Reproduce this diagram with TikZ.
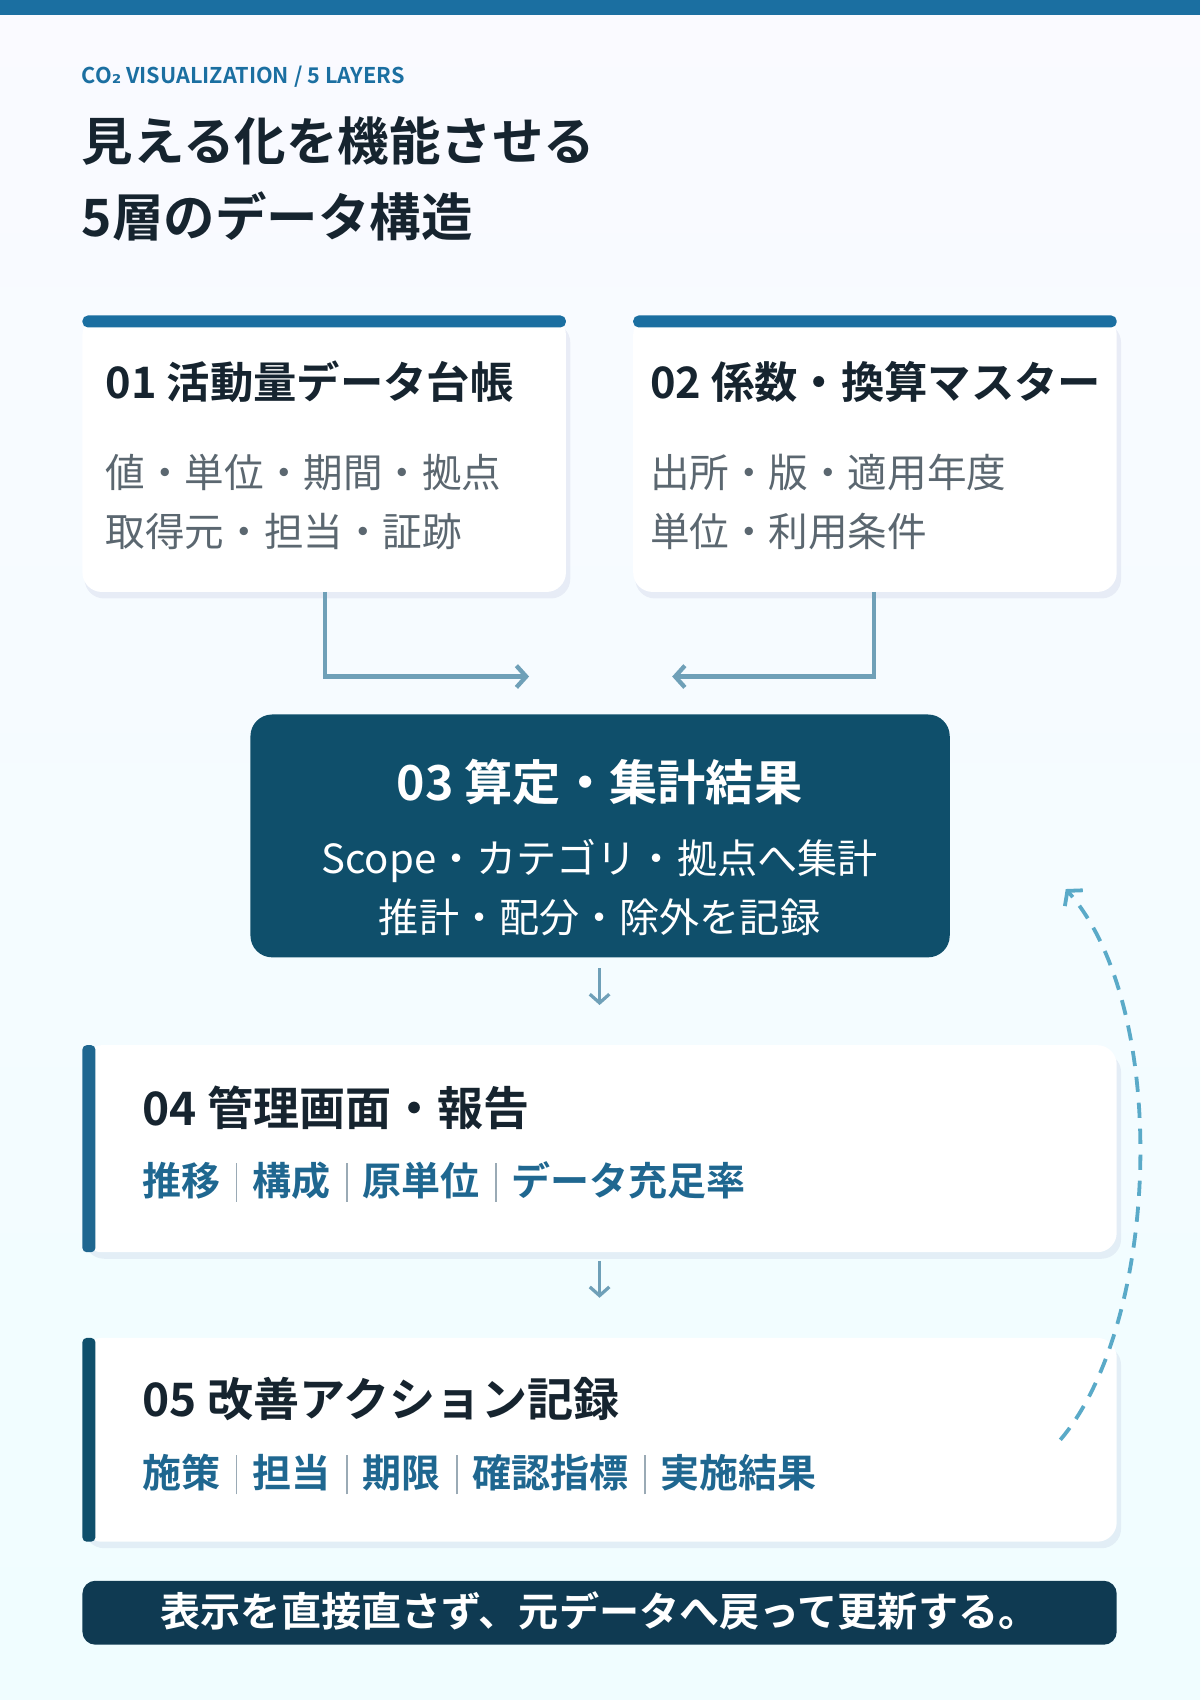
\documentclass[tikz,border=0pt]{standalone}
\usepackage{fontspec}
\setmainfont{Noto Sans CJK JP}[BoldFont={* Bold}]
\newfontfamily\dvs{DejaVu Sans}
\usetikzlibrary{arrows.meta}
\definecolor{topbar}{HTML}{1B6FA1}
\definecolor{ink}{HTML}{16242F}
\definecolor{gray1}{HTML}{5B6770}
\definecolor{blue4}{HTML}{1F6790}
\definecolor{dark3}{HTML}{0F4F6B}
\definecolor{ban}{HTML}{0F3A52}
\definecolor{arr}{HTML}{6FA0B8}
\definecolor{dashc}{HTML}{5AAAC8}
\definecolor{sepc}{HTML}{9AAAB5}
\newcommand{\fs}[1]{\fontsize{#1}{#1}\selectfont}
\newcommand{\sepbar}{\hspace{14pt}\textcolor{sepc}{\rule[-6pt]{1.5pt}{36pt}}\hspace{14pt}}
\tikzset{
 card/.style={fill=white,rounded corners=18pt},
 shadow/.style={fill=black!60!blue,opacity=0.06,rounded corners=18pt},
 ttl/.style={anchor=west,text=ink,font=\bfseries\fs{40}},
 body/.style={anchor=west,text=gray1,font=\fs{36.5}},
 items/.style={anchor=west,text=blue4,font=\bfseries\fs{36}},
 flow/.style={arr,line width=4pt,-{Straight Barb[length=9pt,width=20pt,line width=4pt]}},
 small/.style={arr,line width=3pt,-{Straight Barb[length=8pt,width=18pt,line width=3pt]}},
}
\begin{document}
\begin{tikzpicture}[x=1pt,y=-1pt]
\shade[top color=white!60!blue!5,bottom color=blue!10!cyan!6!white] (0,0) rectangle (1107,1568);
\useasboundingbox (0,0) rectangle (1107,1568);
\fill[topbar] (0,0) rectangle (1107,14);
\node[anchor=west,text=topbar,font=\bfseries\fs{20}] (kick) at (72,71) {CO{\dvs ₂} VISUALIZATION / 5 LAYERS};
\node[anchor=west,text=ink,font=\bfseries\fs{47.5}] (t1) at (72,130) {見える化を機能させる};
\node[anchor=west,text=ink,font=\bfseries\fs{47.5}] (t2) at (72,200) {5層のデータ構造};
% box 1
\fill[shadow] (78,298) rectangle (526,552);
\fill[card] (76,291) rectangle (522,546);
\fill[topbar,rounded corners=5pt] (76,291) rectangle (522,302);
\node[ttl] (b1t) at (94,352) {01 活動量データ台帳};
\node[body] (b1a) at (94,436) {値・単位・期間・拠点};
\node[body] (b1b) at (94,490) {取得元・担当・証跡};
% box 2
\fill[shadow] (586,298) rectangle (1034,552);
\fill[card] (584,291) rectangle (1030,546);
\fill[topbar,rounded corners=5pt] (584,291) rectangle (1030,302);
\node[ttl] (b2t) at (596,352) {02 係数・換算マスター};
\node[body] (b2a) at (596,436) {出所・版・適用年度};
\node[body] (b2b) at (596,490) {単位・利用条件};
% arrows into 3
\coordinate (a1s) at (300,546); \coordinate (a1e) at (488,624);
\coordinate (a2s) at (806,546); \coordinate (a2e) at (620,624);
\draw[flow] (a1s) |- (a1e);
\draw[flow] (a2s) |- (a2e);
% box 3
\fill[dark3,rounded corners=20pt] (231,659) rectangle (876,883);
\node[text=white,font=\bfseries\fs{44.5}] (b3t) at (553,721) {03 算定・集計結果};
\node[text=white,font=\fs{37}] (b3a) at (553,794) {Scope・カテゴリ・拠点へ集計};
\node[text=white,font=\fs{37}] (b3b) at (553,846) {推計・配分・除外を記録};
\coordinate (s1) at (553,893); \coordinate (e1) at (553,927);
\draw[small] (s1) -- (e1);
% box 4
\fill[shadow] (78,971) rectangle (1034,1161);
\fill[card] (76,964) rectangle (1030,1155);
\fill[blue4,rounded corners=4pt] (76,964) rectangle (88,1155);
\node[ttl,font=\bfseries\fs{42.5}] (b4t) at (128,1022) {04 管理画面・報告};
\node[items] (b4i) at (128,1090) {推移\sepbar 構成\sepbar 原単位\sepbar データ充足率};
\coordinate (s2) at (553,1163); \coordinate (e2) at (553,1197);
\draw[small] (s2) -- (e2);
% box 5
\fill[shadow] (78,1241) rectangle (1034,1428);
\fill[card] (76,1234) rectangle (1030,1422);
\fill[dark3,rounded corners=4pt] (76,1234) rectangle (88,1422);
\node[ttl,font=\bfseries\fs{42.5}] (b5t) at (128,1290) {05 改善アクション記録};
\node[items] (b5i) at (128,1360) {施策\sepbar 担当\sepbar 期限\sepbar 確認指標\sepbar 実施結果};
% banner
\fill[ban,rounded corners=12pt] (76,1458) rectangle (1030,1517);
\node[text=white,font=\bfseries\fs{37}] (ban) at (553,1486) {表示を直接直さず、元データへ戻って更新する。};
% dashed feedback
\coordinate (fs) at (978,1328); \coordinate (fe) at (983,820);
\draw[dashc,line width=3.5pt,dash pattern=on 14pt off 10pt,-{Straight Barb[length=9pt,width=22pt,line width=3.5pt]}]
 (fs) .. controls (1070,1220) and (1080,930) .. (fe);
\end{tikzpicture}
\end{document}
